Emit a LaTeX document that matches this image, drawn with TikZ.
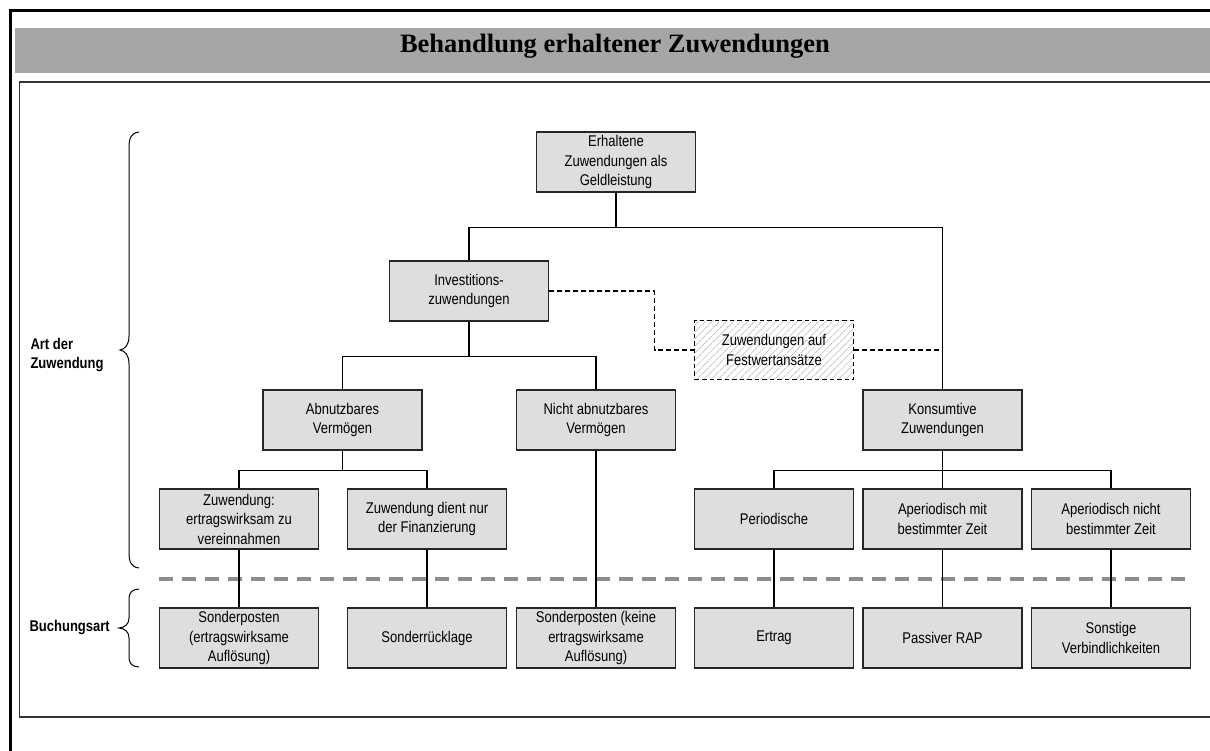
\documentclass[tikz,border=0pt]{standalone}
\usepackage{fontspec}
\setmainfont{Liberation Serif}
\newfontfamily\narrowfont[FakeStretch=0.84]{Liberation Sans}
\usetikzlibrary{patterns.meta}
\definecolor{titlegray}{HTML}{A6A6A6}
\definecolor{boxgray}{HTML}{DEDEDE}
\definecolor{sepgray}{HTML}{8C8C8C}
\begin{document}
\begin{tikzpicture}[x=1pt,y=-1pt,
  box/.style={draw=black!85,line width=1.1pt,fill=boxgray,minimum width=159pt,minimum height=60pt,
    inner sep=1pt,align=center,font=\narrowfont\fontsize{15.5}{19.5}\selectfont},
  hatchbox/.style={draw=black,line width=1.1pt,dash pattern=on 4.5pt off 3pt,minimum width=159pt,minimum height=59pt,
    inner sep=1pt,align=center,font=\narrowfont\fontsize{15.5}{19.5}\selectfont,
    pattern={Lines[angle=45,distance=5pt,line width=0.5pt]},pattern color=black!30},
  conn/.style={draw=black,line width=1.1pt},
  dconn/.style={draw=black,line width=1.1pt,dash pattern=on 5pt off 3pt},
  sidelabel/.style={anchor=west,align=left,font=\narrowfont\bfseries\fontsize{15.5}{19.5}\selectfont},
  bracestyle/.style={draw=black,line width=1pt}]
\useasboundingbox (0,0) rectangle (1210,751);
% frames
\draw[line width=3pt] (10,751) -- (10,11) -- (1210,11);
\fill[titlegray] (15,28) rectangle (1210,73.5);
\node[font=\bfseries\fontsize{26.5}{30}\selectfont] (title) at (615,46) {Behandlung erhaltener Zuwendungen};
\draw[line width=1.3pt,black!80] (1210,82) -- (19.5,82) -- (19.5,717) -- (1210,717);
% separator
\draw[sepgray,line width=4pt,dash pattern=on 14pt off 9pt] (159,579) -- (1191,579);
% nodes
\node[box] (top) at (616,162) {Erhaltene\\Zuwendungen als\\Geldleistung};
\node[box] (inv) at (469,291) {Investitions-\\zuwendungen};
\node[hatchbox] (fest) at (774,350) {Zuwendungen auf\\Festwertansätze};
\node[box] (abn) at (342.5,420) {Abnutzbares\\Vermögen};
\node[box] (nabn) at (596,420) {Nicht abnutzbares\\Vermögen};
\node[box] (kons) at (942.5,420) {Konsumtive\\Zuwendungen};
\node[box] (zert) at (239,519) {Zuwendung:\\ertragswirksam zu\\vereinnahmen};
\node[box] (zfin) at (427,519) {Zuwendung dient nur\\der Finanzierung};
\node[box] (per) at (774,519) {Periodische};
\node[box] (apm) at (942.5,519) {Aperiodisch mit\\bestimmter Zeit};
\node[box] (apn) at (1111,519) {Aperiodisch nicht\\bestimmter Zeit};
\node[box] (b1) at (239,638) {Sonderposten\\(ertragswirksame\\Auflösung)};
\node[box] (b2) at (427,638) {Sonderrücklage};
\node[box] (b3) at (596,638) {Sonderposten (keine\\ertragswirksame\\Auflösung)};
\node[box] (b4) at (774,638) {Ertrag};
\node[box] (b5) at (942.5,638) {Passiver RAP};
\node[box] (b6) at (1111,638) {Sonstige\\Verbindlichkeiten};
% connectors
\draw[conn] (top.south) -- ++(0,35) -| (inv.north);
\draw[conn] (top.south) -- ++(0,35) -| (kons.north);
\draw[conn] (inv.south) -- ++(0,34.5) -| (abn.north);
\draw[conn] (inv.south) -- ++(0,34.5) -| (nabn.north);
\draw[conn] (abn.south) -- ++(0,20) -| (zert.north);
\draw[conn] (abn.south) -- ++(0,20) -| (zfin.north);
\draw[conn] (kons.south) -- ++(0,20) -| (per.north);
\draw[conn] (kons.south) -- ++(0,20) -| (apn.north);
\draw[conn] (kons.south) -- (apm.north);
\draw[conn] (zert.south) -- (b1.north);
\draw[conn] (zfin.south) -- (b2.north);
\draw[conn] (nabn.south) -- (b3.north);
\draw[conn] (per.south) -- (b4.north);
\draw[conn] (apm.south) -- (b5.north);
\draw[conn] (apn.south) -- (b6.north);
\coordinate (bend) at (654.5,350);
\draw[dconn] (inv.east) -| (bend) -- (fest.west);
\draw[dconn] (fest.east) -- (fest.east -| kons.north);
% braces
\draw[bracestyle] (139,132) .. controls (131,133) and (129,138) .. (129,148) -- (129,336)
  .. controls (129,345) and (125,349) .. (120,350) .. controls (125,351) and (129,355) .. (129,364)
  -- (129,552) .. controls (129,562) and (131,567) .. (139,568);
\draw[bracestyle] (139,589) .. controls (132,589.5) and (129,592) .. (129,600) -- (129,618)
  .. controls (129,624) and (125,627.5) .. (119,628) .. controls (125,628.5) and (129,632) .. (129,638)
  -- (129,656) .. controls (129,664) and (132,666.5) .. (139,667);
\node[sidelabel] (art) at (27,355) {Art der\\Zuwendung};
\node[sidelabel] (buch) at (26,628) {Buchungsart};
\end{tikzpicture}
\end{document}
